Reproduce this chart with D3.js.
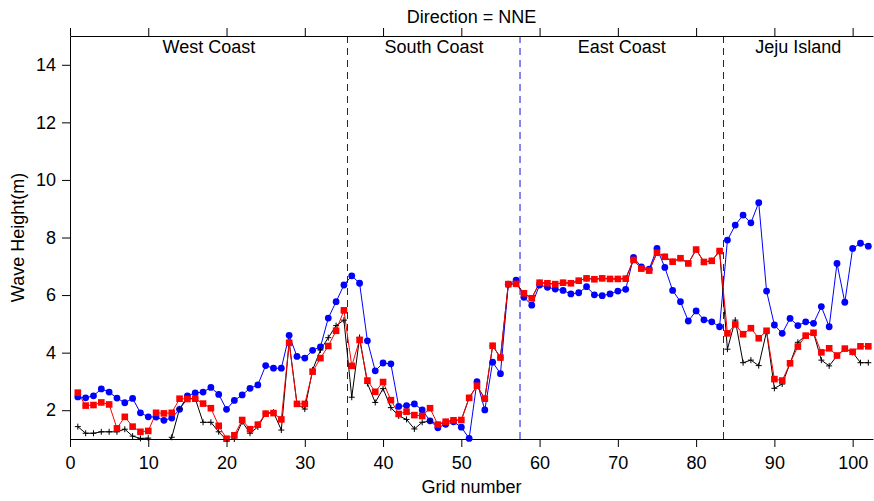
<!DOCTYPE html>
<html>
<head>
<meta charset="utf-8">
<script src="https://cdn.jsdelivr.net/npm/d3@7"></script>
<style>
  body { margin: 0; background: #fff; }
  svg text { font-family: Arial, "Liberation Sans", Helvetica, sans-serif; fill: #000; }
</style>
</head>
<body>
<svg id="chart" width="874" height="501"></svg>
<script>
// Axis ticks
const xTicks = [0, 10, 20, 30, 40, 50, 60, 70, 80, 90, 100];
const yTicks = [2, 4, 6, 8, 10, 12, 14];

// Coastal regions and the grid boundaries between them
const regionNames = ["West Coast", "South Coast", "East Coast", "Jeju Island"];
const regionBounds = [35.5, 57.5, 83.5];

// Grid numbers 1..102
const gridNumbers = d3.range(1, 103);

// Wave height (m) per grid point, three estimates
const blueWave = [
  2.46, 2.43, 2.50, 2.74, 2.63, 2.42, 2.26, 2.41, 1.91, 1.77,
  1.76, 1.65, 1.73, 2.03, 2.50, 2.60, 2.63, 2.79, 2.55, 2.03,
  2.34, 2.53, 2.76, 2.88, 3.55, 3.46, 3.46, 4.60, 3.87, 3.81,
  4.08, 4.20, 5.20, 5.77, 6.35, 6.67, 6.41, 4.41, 3.37, 3.64,
  3.61, 2.13, 2.16, 2.22, 2.01, 1.63, 1.39, 1.51, 1.60, 1.41,
  1.02, 2.99, 2.01, 3.67, 3.27, 6.38, 6.52, 5.92, 5.65, 6.35,
  6.27, 6.21, 6.16, 6.04, 6.08, 6.29, 6.01, 5.98, 6.04, 6.14,
  6.20, 7.31, 6.98, 6.90, 7.62, 6.96, 6.16, 5.77, 5.10, 5.45,
  5.14, 5.07, 4.90, 7.91, 8.43, 8.78, 8.51, 9.21, 6.14, 4.96,
  4.67, 5.19, 4.94, 5.07, 5.02, 5.60, 4.90, 7.10, 5.75, 7.62,
  7.80, 7.70
];

const redWave = [
  2.61, 2.16, 2.18, 2.27, 2.20, 1.37, 1.77, 1.43, 1.25, 1.28,
  1.91, 1.89, 1.91, 2.40, 2.39, 2.40, 2.23, 2.07, 1.46, 1.01,
  1.13, 1.66, 1.34, 1.50, 1.88, 1.90, 1.68, 4.34, 2.22, 2.22,
  3.34, 3.81, 4.23, 4.76, 5.47, 3.54, 4.44, 3.03, 2.64, 2.98,
  2.35, 1.87, 1.95, 1.83, 1.80, 2.07, 1.50, 1.60, 1.65, 1.66,
  2.43, 2.85, 2.40, 4.24, 3.83, 6.38, 6.39, 6.06, 5.89, 6.43,
  6.41, 6.38, 6.43, 6.41, 6.50, 6.58, 6.55, 6.58, 6.56, 6.56,
  6.57, 7.22, 6.92, 6.85, 7.47, 7.33, 7.16, 7.28, 7.10, 7.58,
  7.15, 7.19, 7.53, 4.67, 4.98, 4.64, 4.85, 4.50, 4.76, 3.08,
  3.03, 3.63, 4.21, 4.59, 4.69, 4.01, 4.15, 3.90, 4.14, 4.03,
  4.22, 4.22
];

const blackWave = [
  1.43, 1.20, 1.20, 1.25, 1.25, 1.25, 1.34, 1.10, 1.02, 1.03,
  0.80, 0.80, 1.06, 2.05, 2.40, 2.41, 1.58, 1.58, 1.25, 0.97,
  1.00, 1.60, 1.20, 1.42, 1.89, 1.93, 1.31, 4.38, 2.22, 2.04,
  3.40, 4.09, 4.52, 4.94, 5.13, 2.45, 4.53, 2.93, 2.27, 2.75,
  2.09, 1.80, 1.68, 1.35, 1.58, 1.62, 1.50, 1.60, 1.65, 1.66,
  2.43, 2.85, 2.40, 4.24, 3.83, 6.38, 6.39, 6.06, 5.89, 6.43,
  6.41, 6.38, 6.43, 6.41, 6.50, 6.58, 6.55, 6.58, 6.56, 6.56,
  6.57, 7.22, 6.92, 6.85, 7.47, 7.33, 7.16, 7.28, 7.10, 7.58,
  7.15, 7.19, 7.53, 4.12, 5.13, 3.65, 3.74, 3.55, 4.73, 2.76,
  2.91, 3.63, 4.36, 4.59, 4.69, 3.74, 3.54, 3.89, 4.13, 4.01,
  3.65, 3.65
];

const svg = d3.select("#chart");
const plot = { left: 70, right: 873, top: 36, bottom: 439 };
const FONT = 18;

const x = d3.scaleLinear().domain([0, 102.6]).range([plot.left, plot.right]);
const y = d3.scaleLinear().domain([1, 15]).range([plot.bottom, plot.top]);

// Snap a 1px vertical line to a pixel centre unless it sits on a pixel edge
function snap(p) {
  const frac = p - Math.floor(p);
  return frac < 0.05 ? p : Math.floor(p) + 0.5;
}

svg.append("defs").append("clipPath").attr("id", "plot-clip")
  .append("rect")
  .attr("x", plot.left).attr("y", plot.top)
  .attr("width", plot.right - plot.left).attr("height", plot.bottom - plot.top);

// Region separators
svg.append("g").selectAll("line").data(regionBounds).join("line")
  .attr("x1", d => snap(x(d))).attr("x2", d => snap(x(d)))
  .attr("y1", plot.top).attr("y2", plot.bottom)
  .attr("stroke", "#1010d8").attr("stroke-width", 1)
  .attr("stroke-dasharray", "7,5");

// Region titles, centred in each span
const spans = [x.domain()[0], ...regionBounds, x.domain()[1]];
svg.append("g").selectAll("text").data(regionNames).join("text")
  .attr("x", (d, i) => x((spans[i] + spans[i + 1]) / 2))
  .attr("y", 53)
  .attr("text-anchor", "middle")
  .attr("font-size", FONT)
  .text(d => d);

function series(values) {
  return gridNumbers.map((g, i) => ({ g, v: values[i] }));
}

const line = d3.line().x(d => x(d.g)).y(d => y(d.v));
const lines = svg.append("g").attr("clip-path", "url(#plot-clip)");
const marks = svg.append("g");

function drawSeries(values, color, marker) {
  const data = series(values);
  lines.append("path").datum(data)
    .attr("fill", "none").attr("stroke", color).attr("stroke-width", 1)
    .attr("d", line);
  const visible = data.filter(d => d.v >= y.domain()[0]);
  const g = marks.append("g");
  if (marker === "circle") {
    g.selectAll("circle").data(visible).join("circle")
      .attr("cx", d => x(d.g)).attr("cy", d => y(d.v)).attr("r", 3.4)
      .attr("fill", color);
  } else if (marker === "square") {
    const s = 6.6;
    g.selectAll("rect").data(visible).join("rect")
      .attr("x", d => x(d.g) - s / 2).attr("y", d => y(d.v) - s / 2)
      .attr("width", s).attr("height", s)
      .attr("fill", color);
  } else {
    const a = 3;
    g.selectAll("path").data(visible).join("path")
      .attr("d", d => {
        const cx = x(d.g), cy = y(d.v);
        return `M${cx - a},${cy}H${cx + a}M${cx},${cy - a}V${cy + a}`;
      })
      .attr("stroke", color).attr("stroke-width", 1).attr("fill", "none");
  }
}

drawSeries(blueWave, "#0000ff", "circle");
drawSeries(blackWave, "#000000", "plus");
drawSeries(redWave, "#ff0000", "square");

// Axes
function styleAxis(g) {
  g.attr("font-family", null).attr("font-size", FONT);
  g.selectAll("path, line").attr("stroke", "#000");
}

svg.append("g").attr("transform", `translate(0,${plot.bottom})`)
  .call(d3.axisBottom(x).tickValues(xTicks).tickSize(8).tickSizeOuter(0).tickPadding(9))
  .call(styleAxis);

svg.append("g").attr("transform", `translate(0,${plot.top})`)
  .call(d3.axisTop(x).tickValues(xTicks).tickSize(8).tickSizeOuter(0).tickFormat(""))
  .call(styleAxis);

svg.append("g").attr("transform", `translate(${plot.left},0)`)
  .call(d3.axisLeft(y).tickValues(yTicks).tickSize(8).tickSizeOuter(0).tickPadding(6))
  .call(styleAxis);

// Titles
svg.append("text")
  .attr("x", (plot.left + plot.right) / 2).attr("y", 23)
  .attr("text-anchor", "middle").attr("font-size", FONT)
  .text("Direction = NNE");

svg.append("text")
  .attr("x", (plot.left + plot.right) / 2).attr("y", 493)
  .attr("text-anchor", "middle").attr("font-size", FONT)
  .text("Grid number");

svg.append("text")
  .attr("transform", `translate(24,${(plot.top + plot.bottom) / 2}) rotate(-90)`)
  .attr("text-anchor", "middle").attr("font-size", FONT)
  .text("Wave Height(m)");
</script>
</body>
</html>
